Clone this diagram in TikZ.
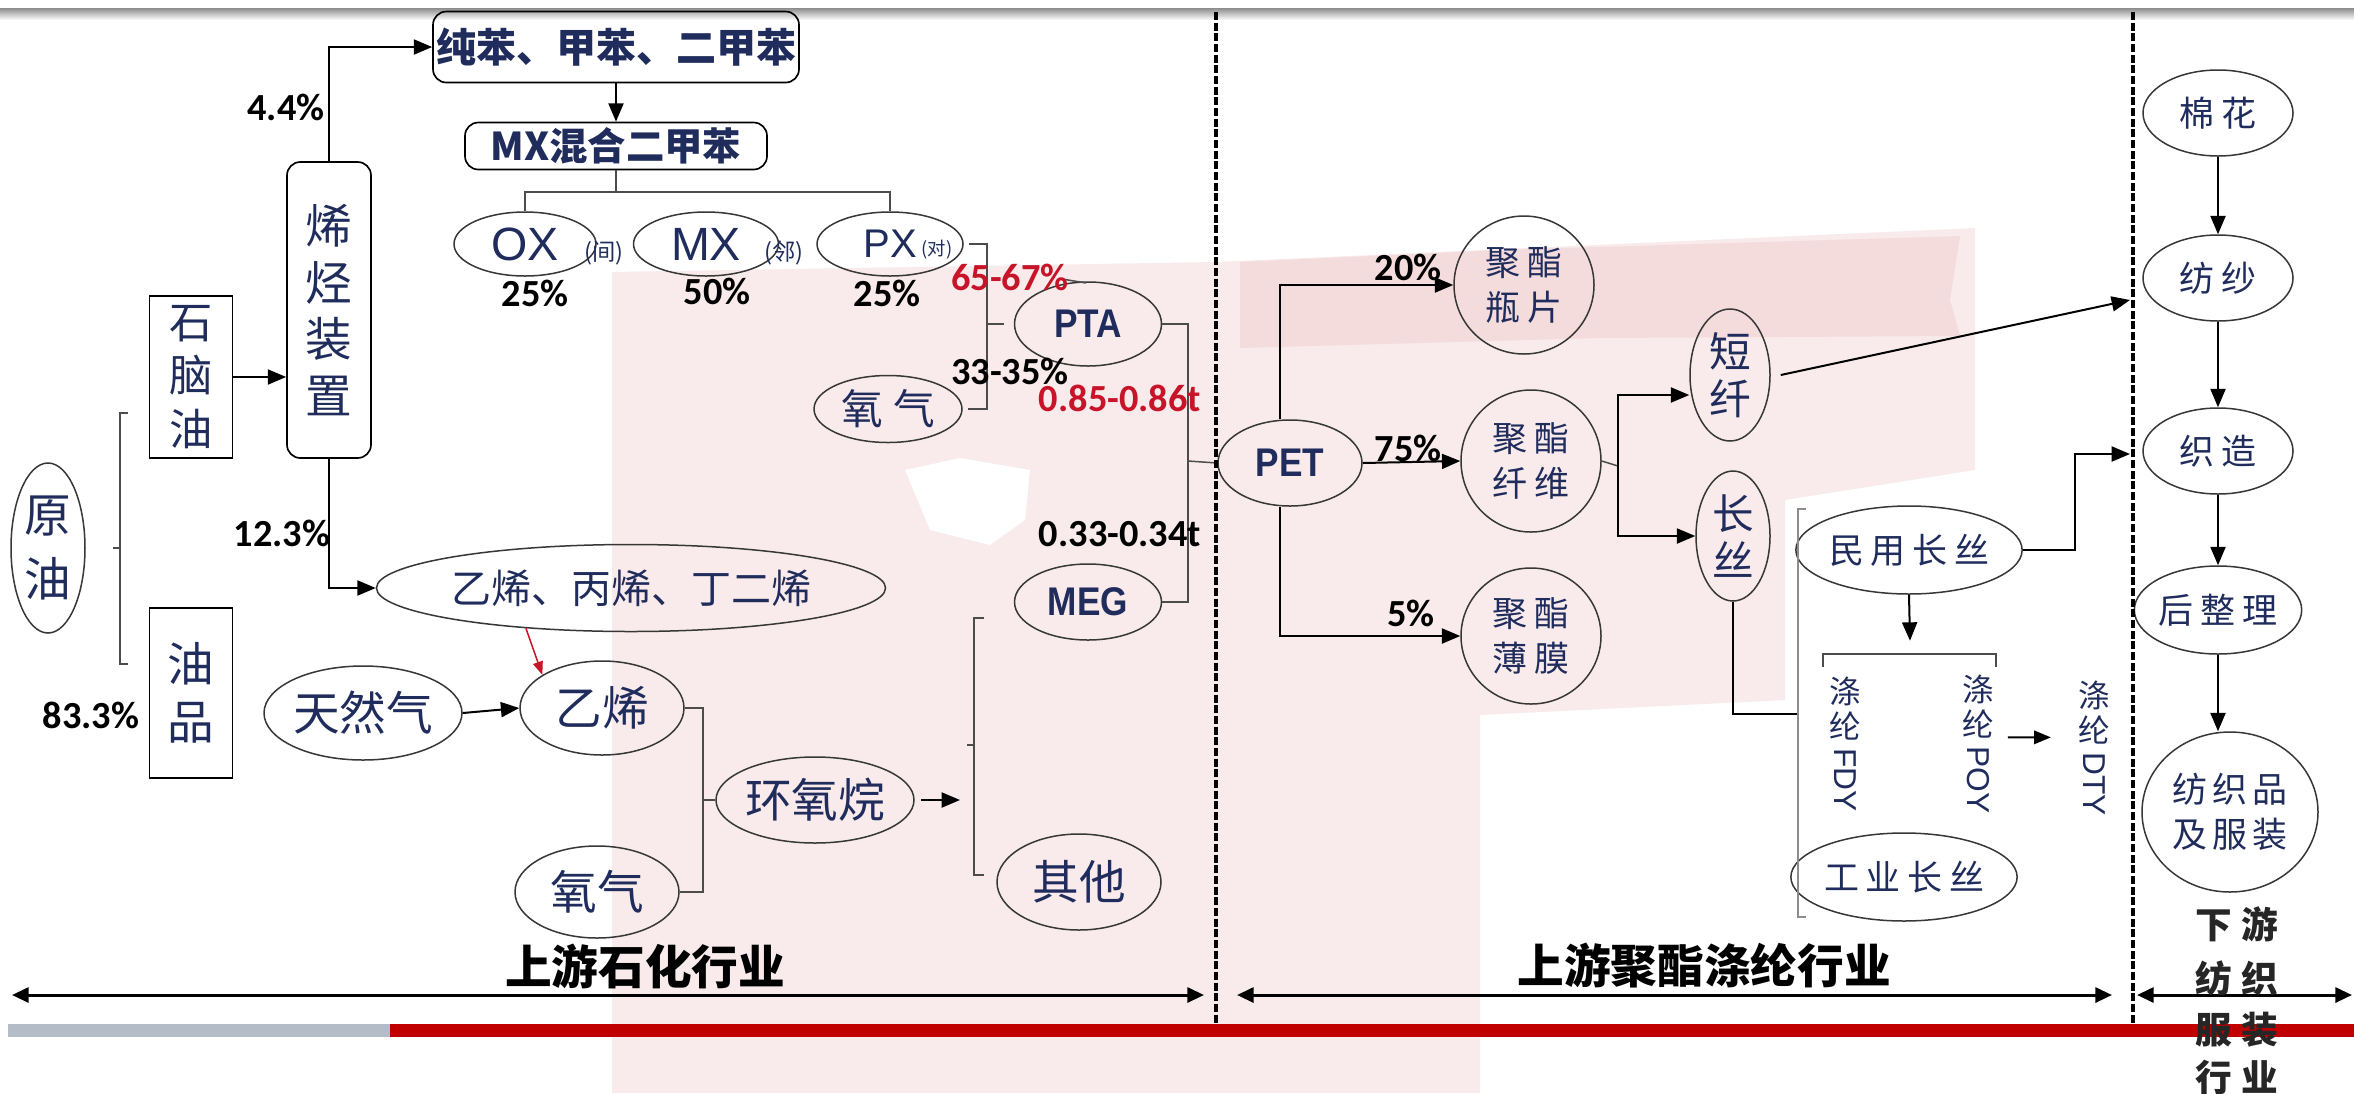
\documentclass[tikz,border=0pt]{standalone}
\usepackage{fontspec}
\setmainfont{Liberation Sans}
\newfontfamily\cjk{Noto Sans CJK SC}
\newfontfamily\calib{Carlito}
\newfontfamily\arialf{Liberation Sans}
\newfontfamily\narrowb{Liberation Sans}[FakeStretch=0.88]
\usetikzlibrary{shapes.geometric,arrows.meta}
\definecolor{navy}{RGB}{31,44,92}
\definecolor{redt}{RGB}{200,20,40}
\definecolor{barred}{RGB}{192,0,0}
\definecolor{bargray}{RGB}{180,188,200}
\definecolor{wmA}{RGB}{249,235,235}
\definecolor{wmB}{RGB}{244,220,220}
\definecolor{edgec}{RGB}{55,55,55}
\tikzset{
 el/.style 2 args={ellipse, draw=edgec, line width=0.45pt, minimum width=#1*0.3pt, minimum height=#2*0.3pt, inner sep=0pt, text=navy, align=center},
 bx/.style 2 args={rectangle, draw=black, line width=0.5pt, minimum width=#1*0.3pt, minimum height=#2*0.3pt, inner sep=0pt, text=navy, align=center},
 rbx/.style 2 args={bx={#1}{#2}, rounded corners=4pt},
 fA/.style={font=\cjk\fontsize{14}{17}\selectfont},
 fB/.style={font=\cjk\fontsize{12.5}{14}\selectfont},
 fC/.style={font=\cjk\fontsize{10.5}{13.5}\selectfont},
 fL/.style={font=\arialf\fontsize{14}{14}\selectfont},
 fN/.style={font=\narrowb\bfseries\fontsize{12}{12}\selectfont},
 pct/.style={font=\calib\bfseries\fontsize{11.5}{12}\selectfont, inner sep=0pt, text=black},
 ttl/.style={font=\cjk\bfseries\fontsize{14}{14}\selectfont, inner sep=0pt, text=black},
 subl/.style={font=\cjk\bfseries\fontsize{11}{11}\selectfont, inner sep=0pt, text=black!85},
 vt/.style={align=center, inner sep=0pt, text=navy, font=\cjk\fontsize{9.5}{10.5}\selectfont},
 ln/.style={draw=black, line width=0.6pt},
 arr/.style={ln, -{Triangle[length=5.5pt,width=4.5pt]}},
 rarr/.style={draw=redt, line width=0.45pt, -{Triangle[length=4pt,width=3pt]}},
 brk/.style={draw=black!70, line width=0.45pt},
 darr/.style={draw=black, line width=0.9pt, {Triangle[length=5pt,width=4.5pt]}-{Triangle[length=5pt,width=4.5pt]}},
 dline/.style={draw=black, line width=1pt, dash pattern=on 2.4pt off 0.8pt},
}
\newcommand{\vlat}[1]{\raisebox{7.5pt}{\rotatebox{-90}{\arialf #1}}}
\begin{document}
\begin{tikzpicture}[x=0.3pt,y=-0.3pt]
\useasboundingbox (0,0) rectangle (2354,1093);
\fill[white] (0,0) rectangle (2354,1093);
% watermark (faint)
\fill[wmA] (612,272) -- (1216,262) -- (1975,228) -- (1975,470) -- (1785,500) -- (1785,700) -- (1480,715) -- (1480,1093) -- (612,1093) -- cycle;
\fill[wmB] (1240,262) -- (1500,250) -- (1960,236) -- (1950,300) -- (1960,336) -- (1600,338) -- (1240,348) -- cycle;
\fill[white] (905,470) -- (960,458) -- (1030,470) -- (1025,520) -- (990,545) -- (930,530) -- cycle;
% top shadow
\shade[top color=black!45, bottom color=white] (0,8) rectangle (2354,20);

% ---- left: crude oil ----
\node[el={74}{170}, font=\cjk\fontsize{14}{19}\selectfont] (yy) at (48,548) {原\\油};
\node[bx={83}{162}, font=\cjk\fontsize{13}{16}\selectfont] (sno) at (191,377) {石\\脑\\油};
\node[bx={83}{170}, font=\cjk\fontsize{14}{17.5}\selectfont] (yp) at (191,693) {油\\品};
\node[rbx={84}{296}, font=\cjk\fontsize{14}{17}\selectfont] (xt) at (329,310) {烯\\烃\\装\\置};
\draw[brk] (128,413) -- (120,413) -- (120,664) -- (128,664);
\draw[brk] (120,548) -- (113,548);
\node[pct] (l83) at (91,715) {83.3\%};
\draw[arr] (sno.east) -- (sno.east -| xt.west);

% ---- aromatics ----
\node[rbx={366}{71}, font=\cjk\bfseries\fontsize{12}{12}\selectfont] (cb) at (616,47) {纯苯、甲苯、二甲苯};
\node[rbx={302}{47}, font=\cjk\bfseries\fontsize{11.5}{12}\selectfont] (mxb) at (616,146) {MX混合二甲苯};
\draw[arr] (xt.north) |- (cb.west);
\node[pct] (l44) at (286,107) {4.4\%};
\draw[arr] (cb.south) -- (mxb.north);
\node[el={142}{64}, fL] (ox) at (525,244) {OX};
\node[el={145}{64}, fL] (mx) at (706,244) {MX};
\node[el={146}{64}, font=\arialf\fontsize{12}{12}\selectfont] (px) at (890,244) {PX};
\node[font=\cjk\fontsize{7}{7}\selectfont, text=navy, inner sep=0pt] (oxs) at (604,253) {(间)};
\node[font=\cjk\fontsize{7}{7}\selectfont, text=navy, inner sep=0pt] (mxs) at (784,253) {(邻)};
\node[font=\cjk\fontsize{5.5}{6}\selectfont, text=navy, inner sep=0pt] (pxs) at (937,250) {(对)};
\coordinate (bm) at (616,192);
\draw[brk] (mxb.south) -- (bm);
\draw[brk] (ox.north) -- (ox.north |- bm) -- (px.north |- bm) -- (px.north);
\node[pct] (p1) at (535,293) {25\%};
\node[pct] (p2) at (717,291) {50\%};
\node[pct] (p3) at (887,293) {25\%};

% ---- PTA ----
\node[el={148}{67}, fB] (o2a) at (888,409) {氧\hspace{3pt}气};
\node[el={147}{84}, fN] (pta) at (1088,324) {PTA};
\node[el={147}{76}, fN] (meg) at (1088,602) {MEG};
\coordinate (bx) at (987,324);
\draw[brk] ([xshift=1.5pt]px.east) -| (bx) |- ([xshift=1.5pt]o2a.east);
\draw[brk] (bx) -- ([xshift=-3pt]pta.west);
\draw[brk] (1062,279) -- (1086,283);
\node[pct, text=redt] (r1) at (1010,277) {65-67\%};
\node[pct] (r2) at (1010,371) {33-35\%};

% ---- C2 chain ----
\node[el={372}{87}, font=\cjk\fontsize{12}{12}\selectfont] (yb) at (631,588) {乙烯、丙烯、丁二烯};
\draw[arr] (xt.south) |- (yb.west);
\node[pct] (l123) at (282,533) {12.3\%};
\node[el={165}{94}, fA] (tr) at (363,713) {天然气};
\node[el={164}{94}, fA] (yx) at (602,708) {乙烯};
\node[el={164}{92}, fA] (o2b) at (597,892) {氧气};
\node[el={165}{86}, fA] (hy) at (815,800) {环氧烷};
\node[el={164}{96}, fA] (qt) at (1079,882) {其他};
\draw[arr] (tr.east) -- (yx.west);
\draw[rarr] (yb.201) -- (yx.151);
\coordinate (bo) at (703,800);
\draw[brk] (yx.east) -| (bo) |- (o2b.east);
\draw[brk] (bo) -- (hy.west);
\coordinate (hyt) at (960,800);
\draw[arr] ([xshift=2pt]hy.east) -- (hyt);
\draw[brk] (984,618) -- (974,618) -- (974,875) -- (984,875);
\draw[brk] (974,745) -- (967,745);

% ---- PET ----
\node[el={144}{86}, fN] (pet) at (1290,463) {PET};
\coordinate (bp) at (1188,461);
\draw[brk] (pta.east) -| (bp) |- (meg.east);
\draw[brk] (bp) -- (pet.west);
\node[pct, text=redt] (r3) at (1120,398) {0.85-0.86t};
\node[pct] (r4) at (1120,534) {0.33-0.34t};
\node[el={140}{138}, fC] (ps) at (1524,285) {聚\hspace{2pt}酯\\瓶\hspace{2pt}片};
\node[el={140}{142}, fC] (pf) at (1531,461) {聚\hspace{2pt}酯\\纤\hspace{2pt}维};
\node[el={140}{136}, fC] (pm) at (1531,636) {聚\hspace{2pt}酯\\薄\hspace{2pt}膜};
\draw[arr] ([xshift=-3pt]pet.north) |- (ps.west);
\draw[arr] (pet.east) -- (pf.west);
\draw[arr] ([xshift=-3pt]pet.south) |- (pm.west);
\node[pct] (q20) at (1408,267) {20\%};
\node[pct] (q75) at (1408,448) {75\%};
\node[pct] (q5) at (1411,613) {5\%};

% ---- fibres ----
\node[el={80}{132}, fB] (dx) at (1730,375) {短\\纤};
\node[el={74}{130}, fB] (cs) at (1733,536) {长\\丝};
\coordinate (fb) at (1618,466);
\draw[brk] (pf.east) -- (fb);
\draw[arr] (fb) |- ([yshift=-6pt]dx.west);
\draw[arr] (fb) |- (cs.west);
\node[el={194}{88}, fC] (my) at (1909,550) {民\hspace{2pt}用\hspace{2pt}长\hspace{2pt}丝};
\node[el={192}{88}, fC] (gy) at (1904,877) {工\hspace{2pt}业\hspace{2pt}长\hspace{2pt}丝};
\coordinate (gb) at (1798,714);
\draw[ln] (cs.south) |- (gb);
\draw[draw=black!45, line width=0.5pt] (1806,509) -- (1798,509) -- (1798,917) -- (1806,917);
\coordinate (mb) at (1910,654);
\draw[arr] (my.south) -- ([yshift=4pt]mb);
\draw[brk] (1823,667) -- (1823,654) -- (1996,654) -- (1996,667);
\node[vt] (fdy) at (1845,744) {涤\\纶\\\vlat{FDY}};
\node[vt] (poy) at (1978,744) {涤\\纶\\\vlat{POY}};
\node[vt] (dty) at (2094,748) {涤\\纶\\\vlat{DTY}};
\draw[ln, -{Triangle[length=5pt,width=4pt]}] ([xshift=4pt,yshift=2pt]poy.east) -- ([xshift=-8pt,yshift=3.2pt]dty.west);

% ---- downstream ----
\node[el={150}{86}, fC] (mh) at (2218,113) {棉\hspace{2pt}花};
\node[el={150}{86}, fC] (fs) at (2218,278) {纺\hspace{2pt}纱};
\node[el={150}{86}, fC] (zz) at (2218,451) {织\hspace{2pt}造};
\node[el={148}{88}, fC] (hz) at (2218,610) {后\hspace{2pt}整\hspace{2pt}理};
\node[el={176}{160}, fC] (fz) at (2230,812) {纺\hspace{1.5pt}织\hspace{1.5pt}品\\及\hspace{1.5pt}服\hspace{1.5pt}装};
\draw[arr] (mh) -- (fs);
\draw[arr] (fs) -- (zz);
\draw[arr] (zz) -- (hz);
\draw[arr] (hz.south) -- (hz.south |- fz.north);
\coordinate (fsin) at (2130,300);
\draw[arr] ([xshift=3pt]dx.east) -- (fsin);
\coordinate (zzin) at (2130,454);
\coordinate (mk) at (2075,454);
\draw[arr] (my.east) -| (mk) -- (zzin);

% ---- dividers, bars ----
\draw[dline] (1216,12) -- (1216,1036);
\draw[dline] (2133,12) -- (2133,1036);
\fill[bargray] (8,1024) rectangle (390,1037);
\fill[barred] (390,1024) rectangle (2354,1037);
\coordinate (a1) at (12,995);
\coordinate (a2) at (1204,995);
\coordinate (a3) at (1237,995);
\coordinate (a4) at (2112,995);
\coordinate (a5) at (2137,995);
\coordinate (a6) at (2352,995);
\draw[darr] (a1) -- (a2);
\draw[darr] (a3) -- (a4);
\draw[darr] (a5) -- (a6);
\node[ttl] (t1) at (645,966) {上游石化行业};
\node[ttl] (t2) at (1704,966) {上游聚酯涤纶行业};
\node[subl] (s1) at (2237,924) {下\hspace{3pt}游};
\node[subl] (s2) at (2237,978) {纺\hspace{3pt}织};
\node[subl] (s3) at (2237,1030) {服\hspace{3pt}装};
\node[subl] (s4) at (2237,1078) {行\hspace{3pt}业};
\end{tikzpicture}
\end{document}
